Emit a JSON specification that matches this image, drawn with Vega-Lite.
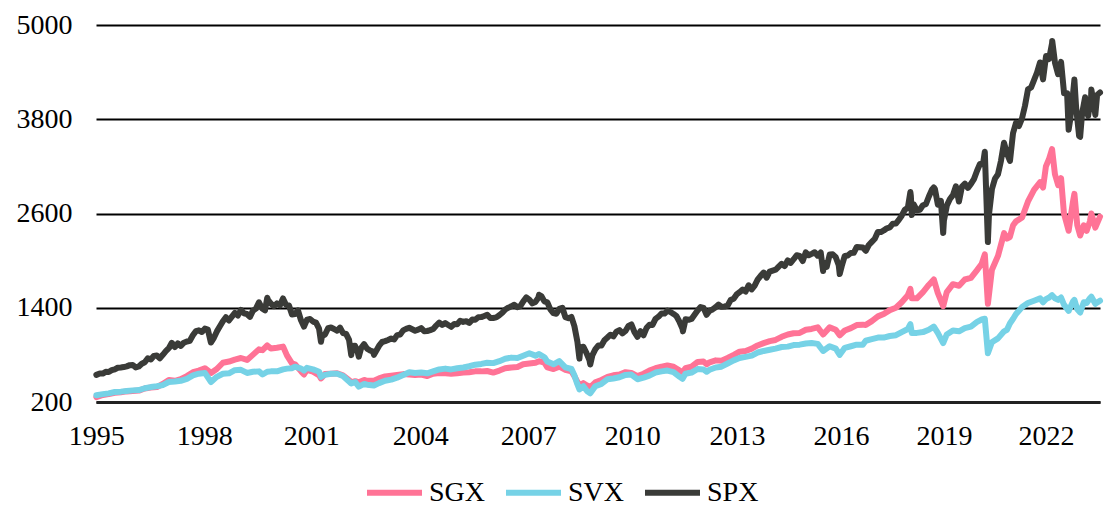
{
"$schema":"https://vega.github.io/schema/vega-lite/v6.json",
"width":1004,"height":377,
"autosize":{"type":"none"},
"padding":{"left":96,"top":25,"right":5,"bottom":104},
"background":"white",
"config":{"view":{"stroke":null},"axis":{"labelFont":"Liberation Serif","labelFontSize":28,"labelColor":"#000"},"legend":{"labelFont":"Liberation Serif","labelFontSize":28,"labelColor":"#000"}},
"datasets":{
"sgx":[{"s":"SGX","t":1995.49,"v":263},{"s":"SGX","t":1995.67,"v":290},{"s":"SGX","t":1995.83,"v":300},{"s":"SGX","t":1996.0,"v":318},{"s":"SGX","t":1996.17,"v":325},{"s":"SGX","t":1996.33,"v":335},{"s":"SGX","t":1996.5,"v":340},{"s":"SGX","t":1996.67,"v":345},{"s":"SGX","t":1996.83,"v":372},{"s":"SGX","t":1997.0,"v":385},{"s":"SGX","t":1997.17,"v":390},{"s":"SGX","t":1997.33,"v":430},{"s":"SGX","t":1997.5,"v":480},{"s":"SGX","t":1997.67,"v":470},{"s":"SGX","t":1997.83,"v":490},{"s":"SGX","t":1998.0,"v":530},{"s":"SGX","t":1998.17,"v":580},{"s":"SGX","t":1998.33,"v":600},{"s":"SGX","t":1998.5,"v":630},{"s":"SGX","t":1998.67,"v":570},{"s":"SGX","t":1998.83,"v":620},{"s":"SGX","t":1999.0,"v":700},{"s":"SGX","t":1999.17,"v":715},{"s":"SGX","t":1999.33,"v":740},{"s":"SGX","t":1999.5,"v":760},{"s":"SGX","t":1999.67,"v":735},{"s":"SGX","t":1999.83,"v":800},{"s":"SGX","t":2000.0,"v":870},{"s":"SGX","t":2000.1,"v":860},{"s":"SGX","t":2000.23,"v":920},{"s":"SGX","t":2000.33,"v":880},{"s":"SGX","t":2000.5,"v":890},{"s":"SGX","t":2000.67,"v":905},{"s":"SGX","t":2000.78,"v":790},{"s":"SGX","t":2000.92,"v":690},{"s":"SGX","t":2001.0,"v":680},{"s":"SGX","t":2001.17,"v":590},{"s":"SGX","t":2001.25,"v":550},{"s":"SGX","t":2001.33,"v":610},{"s":"SGX","t":2001.5,"v":585},{"s":"SGX","t":2001.67,"v":540},{"s":"SGX","t":2001.72,"v":500},{"s":"SGX","t":2001.83,"v":555},{"s":"SGX","t":2002.0,"v":560},{"s":"SGX","t":2002.17,"v":565},{"s":"SGX","t":2002.33,"v":540},{"s":"SGX","t":2002.5,"v":480},{"s":"SGX","t":2002.56,"v":450},{"s":"SGX","t":2002.67,"v":465},{"s":"SGX","t":2002.77,"v":450},{"s":"SGX","t":2002.92,"v":480},{"s":"SGX","t":2003.0,"v":470},{"s":"SGX","t":2003.19,"v":470},{"s":"SGX","t":2003.33,"v":500},{"s":"SGX","t":2003.5,"v":525},{"s":"SGX","t":2003.67,"v":535},{"s":"SGX","t":2003.83,"v":545},{"s":"SGX","t":2004.0,"v":555},{"s":"SGX","t":2004.17,"v":550},{"s":"SGX","t":2004.33,"v":545},{"s":"SGX","t":2004.5,"v":550},{"s":"SGX","t":2004.67,"v":530},{"s":"SGX","t":2004.83,"v":560},{"s":"SGX","t":2005.0,"v":570},{"s":"SGX","t":2005.17,"v":565},{"s":"SGX","t":2005.33,"v":560},{"s":"SGX","t":2005.5,"v":565},{"s":"SGX","t":2005.67,"v":575},{"s":"SGX","t":2005.83,"v":580},{"s":"SGX","t":2006.0,"v":590},{"s":"SGX","t":2006.17,"v":590},{"s":"SGX","t":2006.33,"v":595},{"s":"SGX","t":2006.5,"v":575},{"s":"SGX","t":2006.67,"v":600},{"s":"SGX","t":2006.83,"v":630},{"s":"SGX","t":2007.0,"v":640},{"s":"SGX","t":2007.17,"v":645},{"s":"SGX","t":2007.33,"v":680},{"s":"SGX","t":2007.5,"v":690},{"s":"SGX","t":2007.67,"v":700},{"s":"SGX","t":2007.77,"v":720},{"s":"SGX","t":2007.92,"v":700},{"s":"SGX","t":2008.0,"v":640},{"s":"SGX","t":2008.17,"v":620},{"s":"SGX","t":2008.33,"v":650},{"s":"SGX","t":2008.5,"v":610},{"s":"SGX","t":2008.67,"v":590},{"s":"SGX","t":2008.75,"v":530},{"s":"SGX","t":2008.83,"v":460},{"s":"SGX","t":2008.89,"v":400},{"s":"SGX","t":2009.0,"v":440},{"s":"SGX","t":2009.1,"v":410},{"s":"SGX","t":2009.19,"v":390},{"s":"SGX","t":2009.33,"v":450},{"s":"SGX","t":2009.5,"v":480},{"s":"SGX","t":2009.67,"v":520},{"s":"SGX","t":2009.83,"v":540},{"s":"SGX","t":2010.0,"v":550},{"s":"SGX","t":2010.17,"v":580},{"s":"SGX","t":2010.33,"v":570},{"s":"SGX","t":2010.5,"v":530},{"s":"SGX","t":2010.67,"v":560},{"s":"SGX","t":2010.83,"v":600},{"s":"SGX","t":2011.0,"v":630},{"s":"SGX","t":2011.17,"v":650},{"s":"SGX","t":2011.33,"v":665},{"s":"SGX","t":2011.5,"v":650},{"s":"SGX","t":2011.67,"v":600},{"s":"SGX","t":2011.75,"v":580},{"s":"SGX","t":2011.83,"v":630},{"s":"SGX","t":2012.0,"v":650},{"s":"SGX","t":2012.17,"v":710},{"s":"SGX","t":2012.33,"v":715},{"s":"SGX","t":2012.42,"v":680},{"s":"SGX","t":2012.5,"v":705},{"s":"SGX","t":2012.67,"v":730},{"s":"SGX","t":2012.83,"v":725},{"s":"SGX","t":2013.0,"v":760},{"s":"SGX","t":2013.17,"v":800},{"s":"SGX","t":2013.33,"v":840},{"s":"SGX","t":2013.5,"v":850},{"s":"SGX","t":2013.67,"v":880},{"s":"SGX","t":2013.83,"v":920},{"s":"SGX","t":2014.0,"v":950},{"s":"SGX","t":2014.17,"v":975},{"s":"SGX","t":2014.33,"v":990},{"s":"SGX","t":2014.5,"v":1030},{"s":"SGX","t":2014.67,"v":1060},{"s":"SGX","t":2014.83,"v":1075},{"s":"SGX","t":2015.0,"v":1080},{"s":"SGX","t":2015.17,"v":1120},{"s":"SGX","t":2015.33,"v":1130},{"s":"SGX","t":2015.5,"v":1150},{"s":"SGX","t":2015.65,"v":1060},{"s":"SGX","t":2015.83,"v":1150},{"s":"SGX","t":2016.0,"v":1120},{"s":"SGX","t":2016.11,"v":1050},{"s":"SGX","t":2016.25,"v":1110},{"s":"SGX","t":2016.42,"v":1140},{"s":"SGX","t":2016.58,"v":1180},{"s":"SGX","t":2016.75,"v":1185},{"s":"SGX","t":2016.83,"v":1180},{"s":"SGX","t":2017.0,"v":1230},{"s":"SGX","t":2017.17,"v":1290},{"s":"SGX","t":2017.33,"v":1320},{"s":"SGX","t":2017.5,"v":1370},{"s":"SGX","t":2017.67,"v":1400},{"s":"SGX","t":2017.83,"v":1470},{"s":"SGX","t":2018.0,"v":1560},{"s":"SGX","t":2018.07,"v":1640},{"s":"SGX","t":2018.11,"v":1520},{"s":"SGX","t":2018.25,"v":1520},{"s":"SGX","t":2018.42,"v":1600},{"s":"SGX","t":2018.58,"v":1690},{"s":"SGX","t":2018.72,"v":1760},{"s":"SGX","t":2018.83,"v":1590},{"s":"SGX","t":2018.98,"v":1420},{"s":"SGX","t":2019.08,"v":1600},{"s":"SGX","t":2019.25,"v":1700},{"s":"SGX","t":2019.42,"v":1680},{"s":"SGX","t":2019.58,"v":1760},{"s":"SGX","t":2019.75,"v":1780},{"s":"SGX","t":2019.92,"v":1880},{"s":"SGX","t":2020.05,"v":1960},{"s":"SGX","t":2020.135,"v":2080},{"s":"SGX","t":2020.22,"v":1450},{"s":"SGX","t":2020.33,"v":1880},{"s":"SGX","t":2020.5,"v":2060},{"s":"SGX","t":2020.67,"v":2350},{"s":"SGX","t":2020.75,"v":2280},{"s":"SGX","t":2020.83,"v":2300},{"s":"SGX","t":2020.92,"v":2450},{"s":"SGX","t":2021.0,"v":2500},{"s":"SGX","t":2021.17,"v":2550},{"s":"SGX","t":2021.33,"v":2750},{"s":"SGX","t":2021.5,"v":2900},{"s":"SGX","t":2021.67,"v":3000},{"s":"SGX","t":2021.75,"v":2930},{"s":"SGX","t":2021.83,"v":3200},{"s":"SGX","t":2021.92,"v":3300},{"s":"SGX","t":2022.0,"v":3420},{"s":"SGX","t":2022.08,"v":3100},{"s":"SGX","t":2022.17,"v":2960},{"s":"SGX","t":2022.25,"v":3050},{"s":"SGX","t":2022.33,"v":2600},{"s":"SGX","t":2022.46,"v":2380},{"s":"SGX","t":2022.58,"v":2750},{"s":"SGX","t":2022.62,"v":2850},{"s":"SGX","t":2022.7,"v":2450},{"s":"SGX","t":2022.78,"v":2320},{"s":"SGX","t":2022.88,"v":2450},{"s":"SGX","t":2022.96,"v":2380},{"s":"SGX","t":2023.05,"v":2500},{"s":"SGX","t":2023.09,"v":2600},{"s":"SGX","t":2023.2,"v":2420},{"s":"SGX","t":2023.33,"v":2560}],
"svx":[{"s":"SVX","t":1995.49,"v":287},{"s":"SVX","t":1995.67,"v":300},{"s":"SVX","t":1995.83,"v":310},{"s":"SVX","t":1996.0,"v":327},{"s":"SVX","t":1996.17,"v":332},{"s":"SVX","t":1996.33,"v":340},{"s":"SVX","t":1996.5,"v":348},{"s":"SVX","t":1996.67,"v":352},{"s":"SVX","t":1996.83,"v":375},{"s":"SVX","t":1997.0,"v":390},{"s":"SVX","t":1997.17,"v":400},{"s":"SVX","t":1997.33,"v":415},{"s":"SVX","t":1997.5,"v":455},{"s":"SVX","t":1997.67,"v":460},{"s":"SVX","t":1997.83,"v":470},{"s":"SVX","t":1998.0,"v":495},{"s":"SVX","t":1998.17,"v":540},{"s":"SVX","t":1998.33,"v":560},{"s":"SVX","t":1998.5,"v":570},{"s":"SVX","t":1998.67,"v":455},{"s":"SVX","t":1998.83,"v":520},{"s":"SVX","t":1999.0,"v":560},{"s":"SVX","t":1999.17,"v":565},{"s":"SVX","t":1999.33,"v":605},{"s":"SVX","t":1999.5,"v":610},{"s":"SVX","t":1999.67,"v":570},{"s":"SVX","t":1999.83,"v":585},{"s":"SVX","t":2000.0,"v":590},{"s":"SVX","t":2000.1,"v":550},{"s":"SVX","t":2000.23,"v":585},{"s":"SVX","t":2000.33,"v":590},{"s":"SVX","t":2000.5,"v":590},{"s":"SVX","t":2000.67,"v":615},{"s":"SVX","t":2000.78,"v":625},{"s":"SVX","t":2000.92,"v":630},{"s":"SVX","t":2001.0,"v":650},{"s":"SVX","t":2001.17,"v":625},{"s":"SVX","t":2001.25,"v":600},{"s":"SVX","t":2001.33,"v":635},{"s":"SVX","t":2001.5,"v":615},{"s":"SVX","t":2001.67,"v":585},{"s":"SVX","t":2001.72,"v":520},{"s":"SVX","t":2001.83,"v":545},{"s":"SVX","t":2002.0,"v":560},{"s":"SVX","t":2002.17,"v":560},{"s":"SVX","t":2002.33,"v":530},{"s":"SVX","t":2002.5,"v":460},{"s":"SVX","t":2002.56,"v":435},{"s":"SVX","t":2002.67,"v":455},{"s":"SVX","t":2002.77,"v":395},{"s":"SVX","t":2002.92,"v":430},{"s":"SVX","t":2003.0,"v":420},{"s":"SVX","t":2003.19,"v":410},{"s":"SVX","t":2003.33,"v":440},{"s":"SVX","t":2003.5,"v":470},{"s":"SVX","t":2003.67,"v":485},{"s":"SVX","t":2003.83,"v":510},{"s":"SVX","t":2004.0,"v":545},{"s":"SVX","t":2004.17,"v":580},{"s":"SVX","t":2004.33,"v":570},{"s":"SVX","t":2004.5,"v":575},{"s":"SVX","t":2004.67,"v":565},{"s":"SVX","t":2004.83,"v":590},{"s":"SVX","t":2005.0,"v":615},{"s":"SVX","t":2005.17,"v":625},{"s":"SVX","t":2005.33,"v":615},{"s":"SVX","t":2005.5,"v":630},{"s":"SVX","t":2005.67,"v":640},{"s":"SVX","t":2005.83,"v":655},{"s":"SVX","t":2006.0,"v":675},{"s":"SVX","t":2006.17,"v":685},{"s":"SVX","t":2006.33,"v":700},{"s":"SVX","t":2006.5,"v":695},{"s":"SVX","t":2006.67,"v":720},{"s":"SVX","t":2006.83,"v":750},{"s":"SVX","t":2007.0,"v":765},{"s":"SVX","t":2007.17,"v":760},{"s":"SVX","t":2007.33,"v":790},{"s":"SVX","t":2007.5,"v":820},{"s":"SVX","t":2007.67,"v":790},{"s":"SVX","t":2007.77,"v":810},{"s":"SVX","t":2007.92,"v":770},{"s":"SVX","t":2008.0,"v":715},{"s":"SVX","t":2008.17,"v":680},{"s":"SVX","t":2008.33,"v":720},{"s":"SVX","t":2008.5,"v":640},{"s":"SVX","t":2008.67,"v":620},{"s":"SVX","t":2008.75,"v":540},{"s":"SVX","t":2008.83,"v":430},{"s":"SVX","t":2008.89,"v":360},{"s":"SVX","t":2009.0,"v":400},{"s":"SVX","t":2009.1,"v":340},{"s":"SVX","t":2009.19,"v":310},{"s":"SVX","t":2009.33,"v":400},{"s":"SVX","t":2009.5,"v":430},{"s":"SVX","t":2009.67,"v":490},{"s":"SVX","t":2009.83,"v":500},{"s":"SVX","t":2010.0,"v":515},{"s":"SVX","t":2010.17,"v":545},{"s":"SVX","t":2010.33,"v":550},{"s":"SVX","t":2010.5,"v":490},{"s":"SVX","t":2010.67,"v":510},{"s":"SVX","t":2010.83,"v":535},{"s":"SVX","t":2011.0,"v":575},{"s":"SVX","t":2011.17,"v":590},{"s":"SVX","t":2011.33,"v":600},{"s":"SVX","t":2011.5,"v":580},{"s":"SVX","t":2011.67,"v":520},{"s":"SVX","t":2011.75,"v":495},{"s":"SVX","t":2011.83,"v":560},{"s":"SVX","t":2012.0,"v":575},{"s":"SVX","t":2012.17,"v":620},{"s":"SVX","t":2012.33,"v":615},{"s":"SVX","t":2012.42,"v":585},{"s":"SVX","t":2012.5,"v":610},{"s":"SVX","t":2012.67,"v":640},{"s":"SVX","t":2012.83,"v":650},{"s":"SVX","t":2013.0,"v":690},{"s":"SVX","t":2013.17,"v":730},{"s":"SVX","t":2013.33,"v":760},{"s":"SVX","t":2013.5,"v":775},{"s":"SVX","t":2013.67,"v":790},{"s":"SVX","t":2013.83,"v":830},{"s":"SVX","t":2014.0,"v":850},{"s":"SVX","t":2014.17,"v":865},{"s":"SVX","t":2014.33,"v":880},{"s":"SVX","t":2014.5,"v":900},{"s":"SVX","t":2014.67,"v":905},{"s":"SVX","t":2014.83,"v":925},{"s":"SVX","t":2015.0,"v":930},{"s":"SVX","t":2015.17,"v":945},{"s":"SVX","t":2015.33,"v":950},{"s":"SVX","t":2015.5,"v":940},{"s":"SVX","t":2015.65,"v":850},{"s":"SVX","t":2015.83,"v":910},{"s":"SVX","t":2016.0,"v":880},{"s":"SVX","t":2016.11,"v":800},{"s":"SVX","t":2016.25,"v":890},{"s":"SVX","t":2016.42,"v":910},{"s":"SVX","t":2016.58,"v":930},{"s":"SVX","t":2016.75,"v":930},{"s":"SVX","t":2016.83,"v":980},{"s":"SVX","t":2017.0,"v":1000},{"s":"SVX","t":2017.17,"v":1020},{"s":"SVX","t":2017.33,"v":1020},{"s":"SVX","t":2017.5,"v":1040},{"s":"SVX","t":2017.67,"v":1050},{"s":"SVX","t":2017.83,"v":1090},{"s":"SVX","t":2018.0,"v":1130},{"s":"SVX","t":2018.07,"v":1190},{"s":"SVX","t":2018.11,"v":1080},{"s":"SVX","t":2018.25,"v":1080},{"s":"SVX","t":2018.42,"v":1090},{"s":"SVX","t":2018.58,"v":1120},{"s":"SVX","t":2018.72,"v":1160},{"s":"SVX","t":2018.83,"v":1080},{"s":"SVX","t":2018.98,"v":950},{"s":"SVX","t":2019.08,"v":1060},{"s":"SVX","t":2019.25,"v":1110},{"s":"SVX","t":2019.42,"v":1100},{"s":"SVX","t":2019.58,"v":1140},{"s":"SVX","t":2019.75,"v":1160},{"s":"SVX","t":2019.92,"v":1220},{"s":"SVX","t":2020.05,"v":1250},{"s":"SVX","t":2020.135,"v":1260},{"s":"SVX","t":2020.22,"v":820},{"s":"SVX","t":2020.33,"v":960},{"s":"SVX","t":2020.5,"v":1010},{"s":"SVX","t":2020.67,"v":1100},{"s":"SVX","t":2020.75,"v":1120},{"s":"SVX","t":2020.83,"v":1200},{"s":"SVX","t":2020.92,"v":1260},{"s":"SVX","t":2021.0,"v":1320},{"s":"SVX","t":2021.17,"v":1410},{"s":"SVX","t":2021.33,"v":1460},{"s":"SVX","t":2021.5,"v":1490},{"s":"SVX","t":2021.67,"v":1520},{"s":"SVX","t":2021.75,"v":1470},{"s":"SVX","t":2021.83,"v":1510},{"s":"SVX","t":2021.92,"v":1530},{"s":"SVX","t":2022.0,"v":1560},{"s":"SVX","t":2022.08,"v":1520},{"s":"SVX","t":2022.17,"v":1500},{"s":"SVX","t":2022.25,"v":1530},{"s":"SVX","t":2022.33,"v":1440},{"s":"SVX","t":2022.46,"v":1360},{"s":"SVX","t":2022.58,"v":1480},{"s":"SVX","t":2022.62,"v":1500},{"s":"SVX","t":2022.7,"v":1380},{"s":"SVX","t":2022.78,"v":1340},{"s":"SVX","t":2022.88,"v":1470},{"s":"SVX","t":2022.96,"v":1460},{"s":"SVX","t":2023.05,"v":1520},{"s":"SVX","t":2023.09,"v":1540},{"s":"SVX","t":2023.2,"v":1450},{"s":"SVX","t":2023.33,"v":1490}],
"spx":[{"s":"SPX","t":1995.49,"v":545},{"s":"SPX","t":1995.583,"v":562},{"s":"SPX","t":1995.667,"v":562},{"s":"SPX","t":1995.75,"v":584},{"s":"SPX","t":1995.833,"v":582},{"s":"SPX","t":1995.917,"v":605},{"s":"SPX","t":1996.0,"v":616},{"s":"SPX","t":1996.083,"v":636},{"s":"SPX","t":1996.167,"v":640},{"s":"SPX","t":1996.25,"v":645},{"s":"SPX","t":1996.333,"v":654},{"s":"SPX","t":1996.417,"v":669},{"s":"SPX","t":1996.5,"v":671},{"s":"SPX","t":1996.583,"v":640},{"s":"SPX","t":1996.667,"v":652},{"s":"SPX","t":1996.75,"v":687},{"s":"SPX","t":1996.833,"v":705},{"s":"SPX","t":1996.917,"v":757},{"s":"SPX","t":1997.0,"v":741},{"s":"SPX","t":1997.083,"v":786},{"s":"SPX","t":1997.167,"v":791},{"s":"SPX","t":1997.25,"v":757},{"s":"SPX","t":1997.333,"v":801},{"s":"SPX","t":1997.417,"v":848},{"s":"SPX","t":1997.5,"v":885},{"s":"SPX","t":1997.583,"v":954},{"s":"SPX","t":1997.667,"v":899},{"s":"SPX","t":1997.75,"v":947},{"s":"SPX","t":1997.833,"v":915},{"s":"SPX","t":1997.917,"v":955},{"s":"SPX","t":1998.0,"v":970},{"s":"SPX","t":1998.083,"v":980},{"s":"SPX","t":1998.167,"v":1049},{"s":"SPX","t":1998.25,"v":1102},{"s":"SPX","t":1998.333,"v":1112},{"s":"SPX","t":1998.417,"v":1091},{"s":"SPX","t":1998.5,"v":1134},{"s":"SPX","t":1998.583,"v":1121},{"s":"SPX","t":1998.667,"v":957},{"s":"SPX","t":1998.75,"v":1017},{"s":"SPX","t":1998.833,"v":1099},{"s":"SPX","t":1998.917,"v":1164},{"s":"SPX","t":1999.0,"v":1229},{"s":"SPX","t":1999.083,"v":1280},{"s":"SPX","t":1999.167,"v":1238},{"s":"SPX","t":1999.25,"v":1286},{"s":"SPX","t":1999.333,"v":1335},{"s":"SPX","t":1999.417,"v":1302},{"s":"SPX","t":1999.5,"v":1373},{"s":"SPX","t":1999.583,"v":1329},{"s":"SPX","t":1999.667,"v":1320},{"s":"SPX","t":1999.75,"v":1283},{"s":"SPX","t":1999.833,"v":1363},{"s":"SPX","t":1999.917,"v":1389},{"s":"SPX","t":2000.0,"v":1469},{"s":"SPX","t":2000.083,"v":1394},{"s":"SPX","t":2000.167,"v":1366},{"s":"SPX","t":2000.23,"v":1527},{"s":"SPX","t":2000.25,"v":1499},{"s":"SPX","t":2000.333,"v":1452},{"s":"SPX","t":2000.417,"v":1421},{"s":"SPX","t":2000.5,"v":1455},{"s":"SPX","t":2000.583,"v":1431},{"s":"SPX","t":2000.667,"v":1518},{"s":"SPX","t":2000.75,"v":1437},{"s":"SPX","t":2000.833,"v":1429},{"s":"SPX","t":2000.917,"v":1315},{"s":"SPX","t":2001.0,"v":1320},{"s":"SPX","t":2001.083,"v":1366},{"s":"SPX","t":2001.167,"v":1240},{"s":"SPX","t":2001.25,"v":1160},{"s":"SPX","t":2001.333,"v":1249},{"s":"SPX","t":2001.417,"v":1256},{"s":"SPX","t":2001.5,"v":1224},{"s":"SPX","t":2001.583,"v":1211},{"s":"SPX","t":2001.667,"v":1134},{"s":"SPX","t":2001.72,"v":966},{"s":"SPX","t":2001.75,"v":1041},{"s":"SPX","t":2001.833,"v":1060},{"s":"SPX","t":2001.917,"v":1139},{"s":"SPX","t":2002.0,"v":1148},{"s":"SPX","t":2002.083,"v":1130},{"s":"SPX","t":2002.167,"v":1107},{"s":"SPX","t":2002.25,"v":1147},{"s":"SPX","t":2002.333,"v":1077},{"s":"SPX","t":2002.417,"v":1067},{"s":"SPX","t":2002.5,"v":990},{"s":"SPX","t":2002.56,"v":797},{"s":"SPX","t":2002.583,"v":912},{"s":"SPX","t":2002.667,"v":916},{"s":"SPX","t":2002.75,"v":815},{"s":"SPX","t":2002.77,"v":777},{"s":"SPX","t":2002.833,"v":886},{"s":"SPX","t":2002.917,"v":936},{"s":"SPX","t":2003.0,"v":880},{"s":"SPX","t":2003.083,"v":856},{"s":"SPX","t":2003.167,"v":841},{"s":"SPX","t":2003.19,"v":800},{"s":"SPX","t":2003.25,"v":848},{"s":"SPX","t":2003.333,"v":917},{"s":"SPX","t":2003.417,"v":964},{"s":"SPX","t":2003.5,"v":975},{"s":"SPX","t":2003.583,"v":990},{"s":"SPX","t":2003.667,"v":1008},{"s":"SPX","t":2003.75,"v":996},{"s":"SPX","t":2003.833,"v":1051},{"s":"SPX","t":2003.917,"v":1058},{"s":"SPX","t":2004.0,"v":1112},{"s":"SPX","t":2004.083,"v":1131},{"s":"SPX","t":2004.167,"v":1145},{"s":"SPX","t":2004.25,"v":1126},{"s":"SPX","t":2004.333,"v":1107},{"s":"SPX","t":2004.417,"v":1121},{"s":"SPX","t":2004.5,"v":1141},{"s":"SPX","t":2004.583,"v":1102},{"s":"SPX","t":2004.667,"v":1104},{"s":"SPX","t":2004.75,"v":1115},{"s":"SPX","t":2004.833,"v":1130},{"s":"SPX","t":2004.917,"v":1174},{"s":"SPX","t":2005.0,"v":1212},{"s":"SPX","t":2005.083,"v":1181},{"s":"SPX","t":2005.167,"v":1204},{"s":"SPX","t":2005.25,"v":1181},{"s":"SPX","t":2005.333,"v":1157},{"s":"SPX","t":2005.417,"v":1192},{"s":"SPX","t":2005.5,"v":1191},{"s":"SPX","t":2005.583,"v":1234},{"s":"SPX","t":2005.667,"v":1220},{"s":"SPX","t":2005.75,"v":1229},{"s":"SPX","t":2005.833,"v":1207},{"s":"SPX","t":2005.917,"v":1249},{"s":"SPX","t":2006.0,"v":1248},{"s":"SPX","t":2006.083,"v":1280},{"s":"SPX","t":2006.167,"v":1281},{"s":"SPX","t":2006.25,"v":1295},{"s":"SPX","t":2006.333,"v":1311},{"s":"SPX","t":2006.417,"v":1270},{"s":"SPX","t":2006.5,"v":1270},{"s":"SPX","t":2006.583,"v":1277},{"s":"SPX","t":2006.667,"v":1304},{"s":"SPX","t":2006.75,"v":1336},{"s":"SPX","t":2006.833,"v":1378},{"s":"SPX","t":2006.917,"v":1401},{"s":"SPX","t":2007.0,"v":1418},{"s":"SPX","t":2007.083,"v":1438},{"s":"SPX","t":2007.167,"v":1407},{"s":"SPX","t":2007.25,"v":1421},{"s":"SPX","t":2007.333,"v":1482},{"s":"SPX","t":2007.417,"v":1531},{"s":"SPX","t":2007.5,"v":1503},{"s":"SPX","t":2007.583,"v":1455},{"s":"SPX","t":2007.667,"v":1474},{"s":"SPX","t":2007.75,"v":1527},{"s":"SPX","t":2007.77,"v":1565},{"s":"SPX","t":2007.833,"v":1549},{"s":"SPX","t":2007.917,"v":1481},{"s":"SPX","t":2008.0,"v":1468},{"s":"SPX","t":2008.083,"v":1379},{"s":"SPX","t":2008.167,"v":1331},{"s":"SPX","t":2008.25,"v":1323},{"s":"SPX","t":2008.333,"v":1386},{"s":"SPX","t":2008.417,"v":1400},{"s":"SPX","t":2008.5,"v":1280},{"s":"SPX","t":2008.583,"v":1267},{"s":"SPX","t":2008.667,"v":1283},{"s":"SPX","t":2008.75,"v":1166},{"s":"SPX","t":2008.833,"v":969},{"s":"SPX","t":2008.89,"v":752},{"s":"SPX","t":2008.917,"v":896},{"s":"SPX","t":2009.0,"v":903},{"s":"SPX","t":2009.083,"v":826},{"s":"SPX","t":2009.167,"v":735},{"s":"SPX","t":2009.19,"v":677},{"s":"SPX","t":2009.25,"v":798},{"s":"SPX","t":2009.333,"v":873},{"s":"SPX","t":2009.417,"v":919},{"s":"SPX","t":2009.5,"v":919},{"s":"SPX","t":2009.583,"v":987},{"s":"SPX","t":2009.667,"v":1021},{"s":"SPX","t":2009.75,"v":1057},{"s":"SPX","t":2009.833,"v":1036},{"s":"SPX","t":2009.917,"v":1096},{"s":"SPX","t":2010.0,"v":1115},{"s":"SPX","t":2010.083,"v":1074},{"s":"SPX","t":2010.167,"v":1104},{"s":"SPX","t":2010.25,"v":1169},{"s":"SPX","t":2010.333,"v":1187},{"s":"SPX","t":2010.417,"v":1089},{"s":"SPX","t":2010.5,"v":1031},{"s":"SPX","t":2010.583,"v":1102},{"s":"SPX","t":2010.667,"v":1049},{"s":"SPX","t":2010.75,"v":1141},{"s":"SPX","t":2010.833,"v":1183},{"s":"SPX","t":2010.917,"v":1181},{"s":"SPX","t":2011.0,"v":1258},{"s":"SPX","t":2011.083,"v":1286},{"s":"SPX","t":2011.167,"v":1327},{"s":"SPX","t":2011.25,"v":1326},{"s":"SPX","t":2011.333,"v":1364},{"s":"SPX","t":2011.417,"v":1345},{"s":"SPX","t":2011.5,"v":1321},{"s":"SPX","t":2011.583,"v":1292},{"s":"SPX","t":2011.667,"v":1219},{"s":"SPX","t":2011.75,"v":1131},{"s":"SPX","t":2011.76,"v":1099},{"s":"SPX","t":2011.833,"v":1253},{"s":"SPX","t":2011.917,"v":1247},{"s":"SPX","t":2012.0,"v":1258},{"s":"SPX","t":2012.083,"v":1312},{"s":"SPX","t":2012.167,"v":1366},{"s":"SPX","t":2012.25,"v":1408},{"s":"SPX","t":2012.333,"v":1398},{"s":"SPX","t":2012.417,"v":1310},{"s":"SPX","t":2012.5,"v":1362},{"s":"SPX","t":2012.583,"v":1379},{"s":"SPX","t":2012.667,"v":1407},{"s":"SPX","t":2012.75,"v":1441},{"s":"SPX","t":2012.833,"v":1412},{"s":"SPX","t":2012.917,"v":1416},{"s":"SPX","t":2013.0,"v":1426},{"s":"SPX","t":2013.083,"v":1498},{"s":"SPX","t":2013.167,"v":1515},{"s":"SPX","t":2013.25,"v":1569},{"s":"SPX","t":2013.333,"v":1598},{"s":"SPX","t":2013.417,"v":1631},{"s":"SPX","t":2013.5,"v":1606},{"s":"SPX","t":2013.583,"v":1686},{"s":"SPX","t":2013.667,"v":1633},{"s":"SPX","t":2013.75,"v":1682},{"s":"SPX","t":2013.833,"v":1757},{"s":"SPX","t":2013.917,"v":1806},{"s":"SPX","t":2014.0,"v":1848},{"s":"SPX","t":2014.083,"v":1783},{"s":"SPX","t":2014.167,"v":1859},{"s":"SPX","t":2014.25,"v":1872},{"s":"SPX","t":2014.333,"v":1884},{"s":"SPX","t":2014.417,"v":1924},{"s":"SPX","t":2014.5,"v":1960},{"s":"SPX","t":2014.583,"v":1931},{"s":"SPX","t":2014.667,"v":2003},{"s":"SPX","t":2014.75,"v":1972},{"s":"SPX","t":2014.833,"v":2018},{"s":"SPX","t":2014.917,"v":2068},{"s":"SPX","t":2015.0,"v":2059},{"s":"SPX","t":2015.083,"v":1995},{"s":"SPX","t":2015.167,"v":2105},{"s":"SPX","t":2015.25,"v":2068},{"s":"SPX","t":2015.333,"v":2086},{"s":"SPX","t":2015.417,"v":2107},{"s":"SPX","t":2015.5,"v":2063},{"s":"SPX","t":2015.583,"v":2104},{"s":"SPX","t":2015.65,"v":1867},{"s":"SPX","t":2015.667,"v":1972},{"s":"SPX","t":2015.75,"v":1920},{"s":"SPX","t":2015.833,"v":2079},{"s":"SPX","t":2015.917,"v":2080},{"s":"SPX","t":2016.0,"v":2044},{"s":"SPX","t":2016.083,"v":1940},{"s":"SPX","t":2016.11,"v":1829},{"s":"SPX","t":2016.167,"v":1932},{"s":"SPX","t":2016.25,"v":2060},{"s":"SPX","t":2016.333,"v":2065},{"s":"SPX","t":2016.417,"v":2097},{"s":"SPX","t":2016.5,"v":2099},{"s":"SPX","t":2016.583,"v":2174},{"s":"SPX","t":2016.667,"v":2171},{"s":"SPX","t":2016.75,"v":2168},{"s":"SPX","t":2016.833,"v":2126},{"s":"SPX","t":2016.917,"v":2199},{"s":"SPX","t":2017.0,"v":2239},{"s":"SPX","t":2017.083,"v":2279},{"s":"SPX","t":2017.167,"v":2364},{"s":"SPX","t":2017.25,"v":2363},{"s":"SPX","t":2017.333,"v":2384},{"s":"SPX","t":2017.417,"v":2412},{"s":"SPX","t":2017.5,"v":2423},{"s":"SPX","t":2017.583,"v":2470},{"s":"SPX","t":2017.667,"v":2472},{"s":"SPX","t":2017.75,"v":2519},{"s":"SPX","t":2017.833,"v":2575},{"s":"SPX","t":2017.917,"v":2648},{"s":"SPX","t":2018.0,"v":2674},{"s":"SPX","t":2018.07,"v":2873},{"s":"SPX","t":2018.083,"v":2824},{"s":"SPX","t":2018.11,"v":2581},{"s":"SPX","t":2018.167,"v":2714},{"s":"SPX","t":2018.25,"v":2641},{"s":"SPX","t":2018.333,"v":2648},{"s":"SPX","t":2018.417,"v":2705},{"s":"SPX","t":2018.5,"v":2718},{"s":"SPX","t":2018.583,"v":2816},{"s":"SPX","t":2018.667,"v":2902},{"s":"SPX","t":2018.72,"v":2931},{"s":"SPX","t":2018.75,"v":2914},{"s":"SPX","t":2018.833,"v":2711},{"s":"SPX","t":2018.917,"v":2760},{"s":"SPX","t":2018.98,"v":2351},{"s":"SPX","t":2019.0,"v":2507},{"s":"SPX","t":2019.083,"v":2704},{"s":"SPX","t":2019.167,"v":2784},{"s":"SPX","t":2019.25,"v":2834},{"s":"SPX","t":2019.333,"v":2946},{"s":"SPX","t":2019.417,"v":2752},{"s":"SPX","t":2019.5,"v":2942},{"s":"SPX","t":2019.583,"v":2980},{"s":"SPX","t":2019.667,"v":2926},{"s":"SPX","t":2019.75,"v":2977},{"s":"SPX","t":2019.833,"v":3038},{"s":"SPX","t":2019.917,"v":3141},{"s":"SPX","t":2020.0,"v":3231},{"s":"SPX","t":2020.083,"v":3226},{"s":"SPX","t":2020.135,"v":3386},{"s":"SPX","t":2020.167,"v":2954},{"s":"SPX","t":2020.22,"v":2237},{"s":"SPX","t":2020.25,"v":2585},{"s":"SPX","t":2020.333,"v":2912},{"s":"SPX","t":2020.417,"v":3044},{"s":"SPX","t":2020.5,"v":3100},{"s":"SPX","t":2020.583,"v":3271},{"s":"SPX","t":2020.667,"v":3500},{"s":"SPX","t":2020.75,"v":3363},{"s":"SPX","t":2020.833,"v":3270},{"s":"SPX","t":2020.917,"v":3622},{"s":"SPX","t":2021.0,"v":3756},{"s":"SPX","t":2021.083,"v":3714},{"s":"SPX","t":2021.167,"v":3811},{"s":"SPX","t":2021.25,"v":3973},{"s":"SPX","t":2021.333,"v":4181},{"s":"SPX","t":2021.417,"v":4204},{"s":"SPX","t":2021.5,"v":4298},{"s":"SPX","t":2021.583,"v":4395},{"s":"SPX","t":2021.667,"v":4523},{"s":"SPX","t":2021.75,"v":4308},{"s":"SPX","t":2021.833,"v":4605},{"s":"SPX","t":2021.917,"v":4567},{"s":"SPX","t":2022.0,"v":4766},{"s":"SPX","t":2022.005,"v":4797},{"s":"SPX","t":2022.083,"v":4516},{"s":"SPX","t":2022.167,"v":4374},{"s":"SPX","t":2022.25,"v":4530},{"s":"SPX","t":2022.333,"v":4132},{"s":"SPX","t":2022.417,"v":4132},{"s":"SPX","t":2022.46,"v":3667},{"s":"SPX","t":2022.5,"v":3785},{"s":"SPX","t":2022.583,"v":4130},{"s":"SPX","t":2022.62,"v":4305},{"s":"SPX","t":2022.667,"v":3955},{"s":"SPX","t":2022.75,"v":3586},{"s":"SPX","t":2022.78,"v":3577},{"s":"SPX","t":2022.833,"v":3872},{"s":"SPX","t":2022.917,"v":4080},{"s":"SPX","t":2023.0,"v":3840},{"s":"SPX","t":2023.083,"v":4077},{"s":"SPX","t":2023.09,"v":4179},{"s":"SPX","t":2023.167,"v":3970},{"s":"SPX","t":2023.2,"v":3855},{"s":"SPX","t":2023.25,"v":4109},{"s":"SPX","t":2023.33,"v":4140}]
},
"encoding":{
"x":{"field":"t","type":"quantitative","scale":{"domain":[1995.48,2023.33],"nice":false,"zero":false},
"axis":{"title":null,"grid":false,"ticks":false,"domain":true,"domainColor":"#222","domainWidth":3,"labelPadding":20,"labelFlush":false,"labelOverlap":false,"labelBound":false,
"values":[1995.49,1998.483,2001.45,2004.473,2007.468,2010.352,2013.264,2016.148,2019.004,2021.833],"labelExpr":"format(round(datum.value/3)*3,'d')"}},
"y":{"field":"v","type":"quantitative","scale":{"domain":[200,5000],"nice":false,"zero":false},
"axis":{"title":null,"values":[200,1400,2600,3800,5000],"grid":true,"gridColor":"#000","gridWidth":2,"gridOpacity":1,"ticks":false,"domain":false,"labelPadding":24,"labelExpr":"format(datum.value,'d')"}},
"color":{"field":"s","type":"nominal","scale":{"domain":["SGX","SVX","SPX"],"range":["#FF7396","#76D2E6","#3A3B38"]},
"legend":{"title":null,"orient":"none","direction":"horizontal","legendX":268,"legendY":437,"padding":0,"symbolType":"stroke","symbolSize":3025,"symbolStrokeWidth":6,"labelOffset":4,"columnPadding":8}}
},
"layer":[
{"data":{"name":"sgx"},"mark":{"type":"line","strokeWidth":6,"strokeCap":"round","strokeJoin":"round"}},
{"data":{"name":"svx"},"mark":{"type":"line","strokeWidth":6,"strokeCap":"round","strokeJoin":"round"}},
{"data":{"name":"spx"},"mark":{"type":"line","strokeWidth":6,"strokeCap":"round","strokeJoin":"round"}}
]
}
